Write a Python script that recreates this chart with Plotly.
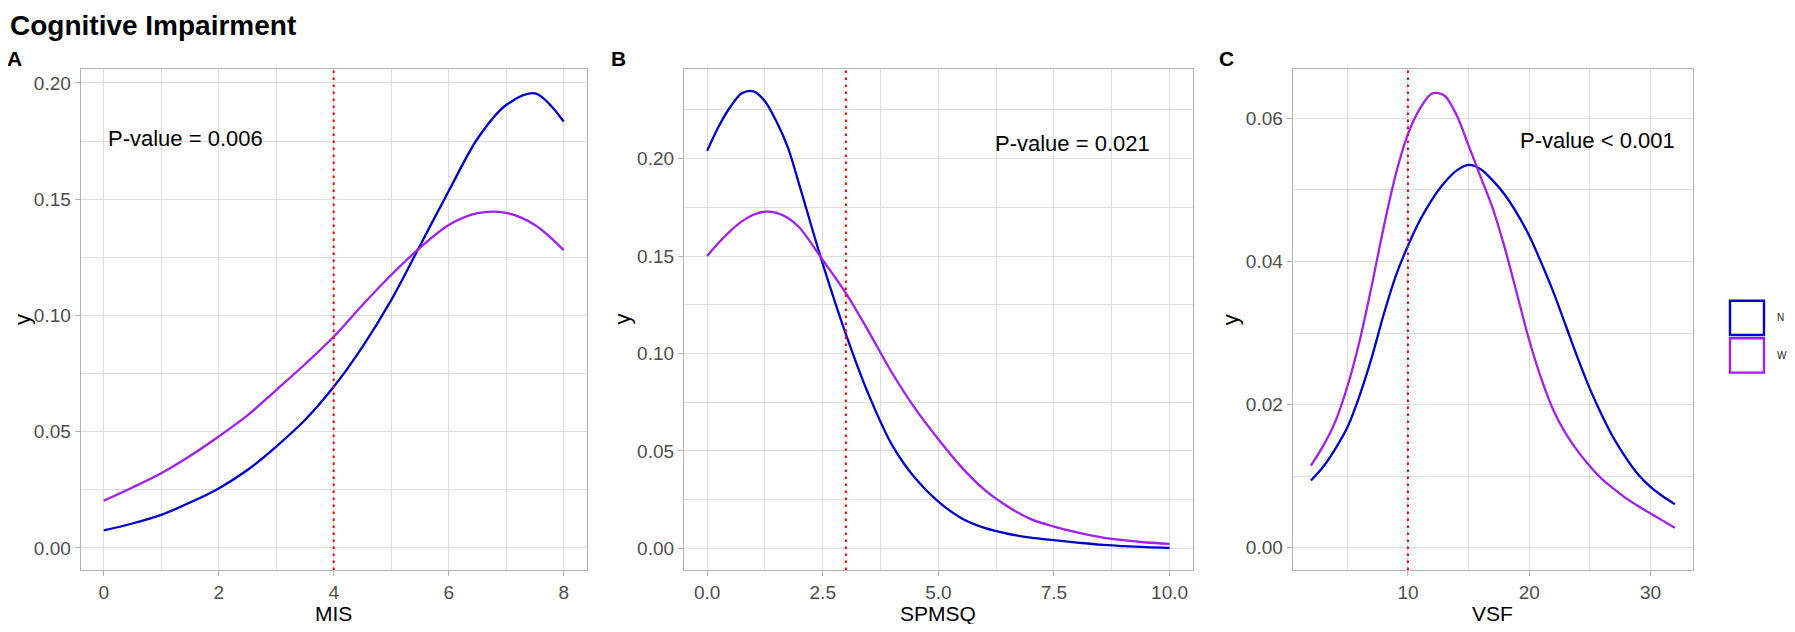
import plotly.graph_objects as go

# --- dati ---
gruppi = ["N", "W"]
colori = ["#0000CD", "#A020F0"]

# A: MIS
mis_x = [0, 0.5, 1, 1.5, 2, 2.5, 3, 3.5, 4, 4.5, 5, 5.5, 6, 6.5, 7, 7.5, 8]
mis_n = [0.0075, 0.0105, 0.0142, 0.0195, 0.0256, 0.0335, 0.0436, 0.055, 0.0693, 0.0865,
         0.1066, 0.130, 0.1535, 0.176, 0.1905, 0.1955, 0.1834]
mis_w = [0.0203, 0.026, 0.0321, 0.0395, 0.0479, 0.057, 0.0679, 0.079, 0.0908, 0.1045,
         0.1174, 0.1291, 0.1389, 0.144, 0.1441, 0.1389, 0.1281]

# B: SPMSQ
spmsq_x = [0, 0.25, 0.5, 0.75, 1, 1.25, 1.5, 1.75, 2, 2.5, 3, 3.5, 4, 4.5, 5, 5.5, 6, 6.5,
           7, 7.5, 8, 8.5, 9, 9.5, 10]
spmsq_n = [0.204, 0.2165, 0.2265, 0.2335, 0.2345, 0.2295, 0.219, 0.2055, 0.186, 0.146,
           0.110, 0.0785, 0.053, 0.036, 0.024, 0.0155, 0.0105, 0.0075, 0.0055, 0.0042,
           0.003, 0.0019, 0.0012, 0.0006, 0.0002]
spmsq_w = [0.150, 0.1568, 0.1628, 0.1678, 0.1712, 0.1728, 0.1722, 0.1695, 0.1645, 0.148,
           0.131, 0.111, 0.090, 0.0717, 0.056, 0.0417, 0.030, 0.0215, 0.015, 0.0112, 0.0082,
           0.0058, 0.0042, 0.003, 0.0023]

# C: VSF
vsf_x = list(range(2, 33))
vsf_n = [0.0094, 0.0113, 0.0138, 0.0168, 0.0212, 0.0265, 0.0326, 0.0380, 0.0422, 0.0458,
         0.0487, 0.0510, 0.0527, 0.0535, 0.0529, 0.0513, 0.0493, 0.0467, 0.0436, 0.0398,
         0.0357, 0.0311, 0.0265, 0.0222, 0.0185, 0.0152, 0.0125, 0.0102, 0.0085, 0.0072,
         0.0061]
vsf_w = [0.0115, 0.0142, 0.0176, 0.0225, 0.0288, 0.0365, 0.0448, 0.0522, 0.0578, 0.0614,
         0.0635, 0.0632, 0.0605, 0.0562, 0.0518, 0.0474, 0.0418, 0.0354, 0.0290, 0.0236,
         0.0192, 0.0160, 0.0135, 0.0114, 0.0096, 0.0082, 0.0069, 0.0058, 0.0048, 0.0038,
         0.0028]

soglie = [4, 3, 10]
pvalori = ["P-value = 0.006", "P-value = 0.021", "P-value < 0.001"]
pos_pvalori = [(1.43, 0.176), (7.9, 0.208), (25.6, 0.0569)]
titoli_x = ["MIS", "SPMSQ", "VSF"]
lettere = ["A", "B", "C"]

# la pagina html ha un margine di 8px attorno al grafico
OFF = 8
W, H = 1795 - 2 * OFF, 632 - 2 * OFF
FONT = "Liberation Sans, Arial, Helvetica, sans-serif"


def px_x(v):
    return (v - OFF) / W


def px_y(v):
    return 1 - (v - OFF) / H


# riquadri dei pannelli in pixel della pagina (sinistra, destra)
pannelli = [(80.7, 586.7), (684.0, 1192.7), (1292.7, 1693.0)]
top_px, bottom_px = 69, 570

serie = [
    (mis_x, mis_n, mis_x, mis_w),
    (spmsq_x, spmsq_n, spmsq_x, spmsq_w),
    (vsf_x, vsf_n, vsf_x, vsf_w),
]

assi_x = [
    dict(range=[-0.4, 8.4], dtick=2, minor=1, fmt=""),
    dict(range=[-0.5, 10.5], dtick=2.5, minor=1.25, fmt=".1f"),
    dict(range=[0.5, 33.5], dtick=10, minor=5, fmt=""),
]
assi_y = [
    dict(range=[-0.0095, 0.206], dtick=0.05, minor=0.025),
    dict(range=[-0.0111, 0.246], dtick=0.05, minor=0.025),
    dict(range=[-0.0031, 0.0669], dtick=0.02, minor=0.01),
]

fig = go.Figure()

for i, (xn, yn, xw, yw) in enumerate(serie):
    xa = "x" if i == 0 else f"x{i+1}"
    ya = "y" if i == 0 else f"y{i+1}"
    for nome, col, xs, ys in [(gruppi[0], colori[0], xn, yn), (gruppi[1], colori[1], xw, yw)]:
        fig.add_trace(go.Scatter(
            x=xs, y=ys, mode="lines", name=nome, showlegend=False,
            line=dict(color=col, width=2.3, shape="spline", smoothing=0.9),
            xaxis=xa, yaxis=ya,
        ))

griglia = "#DEDEDE"
bordo = "#B3B3B3"
layout_assi = {}
for i in range(3):
    sx = "xaxis" if i == 0 else f"xaxis{i+1}"
    sy = "yaxis" if i == 0 else f"yaxis{i+1}"
    l, r = pannelli[i]
    ax = assi_x[i]
    ay = assi_y[i]
    comune = dict(
        tickmode="linear", tick0=0,
        showgrid=True, gridcolor=griglia, gridwidth=1.3, zeroline=False,
        showline=True, mirror=True, linecolor=bordo, linewidth=1.2,
        ticks="outside", ticklen=5, tickcolor=bordo, tickwidth=1,
        tickfont=dict(family=FONT, size=19, color="#4D4D4D"),
    )
    layout_assi[sx] = dict(
        domain=[px_x(l), px_x(r)], range=ax["range"], anchor="y" if i == 0 else f"y{i+1}",
        dtick=ax["dtick"], tickformat=ax["fmt"],
        minor=dict(tick0=0, dtick=ax["minor"], showgrid=True, gridcolor=griglia, gridwidth=0.8),
        **comune,
    )
    layout_assi[sy] = dict(
        domain=[px_y(bottom_px), px_y(top_px)], range=ay["range"], anchor="x" if i == 0 else f"x{i+1}",
        dtick=ay["dtick"], tickformat=".2f",
        minor=dict(tick0=0, dtick=ay["minor"], showgrid=True, gridcolor=griglia, gridwidth=0.8),
        **comune,
    )

shapes = []
annotations = []
for i in range(3):
    xa = "x" if i == 0 else f"x{i+1}"
    ya = "y" if i == 0 else f"y{i+1}"
    l, r = pannelli[i]
    # linea verticale punteggiata della soglia
    shapes.append(dict(
        type="line", xref=xa, yref=f"{ya} domain", x0=soglie[i], x1=soglie[i], y0=0, y1=1,
        line=dict(color="red", width=2, dash="2.5px,4.5px"),
    ))
    # testo p-value
    annotations.append(dict(
        text=pvalori[i], x=pos_pvalori[i][0], y=pos_pvalori[i][1], xref=xa, yref=ya,
        showarrow=False, xanchor="center", yanchor="middle",
        font=dict(family=FONT, size=22, color="black"),
    ))
    # titolo asse x
    annotations.append(dict(
        text=titoli_x[i], x=px_x((l + r) / 2), y=px_y(613), xref="paper", yref="paper",
        showarrow=False, xanchor="center", yanchor="middle",
        font=dict(family=FONT, size=21, color="black"),
    ))
    # titolo asse y (il primo resta dentro il bordo sinistro)
    if i == 0:
        ylab = dict(x=0, xanchor="left")
    else:
        ylab = dict(x=px_x(l - 62), xanchor="center")
    annotations.append(dict(
        text="y", y=px_y((top_px + bottom_px) / 2), xref="paper", yref="paper",
        showarrow=False, yanchor="middle", textangle=-90,
        font=dict(family=FONT, size=22, color="black"), **ylab,
    ))
    # lettera del pannello
    annotations.append(dict(
        text=f"<b>{lettere[i]}</b>", x=px_x(l - 66), y=px_y(58), xref="paper", yref="paper",
        showarrow=False, xanchor="center", yanchor="middle",
        font=dict(family=FONT, size=21, color="black"),
    ))

# titolo generale
annotations.append(dict(
    text="<b>Cognitive Impairment</b>", x=0, y=1, xref="paper", yref="paper",
    showarrow=False, xanchor="left", yanchor="top",
    font=dict(family=FONT, size=28, color="black"),
))

# legenda disegnata a mano (chiavi con contorno)
chiavi = [(300.7, 335.0), (338.3, 372.6)]
for k, (t, b) in enumerate(chiavi):
    shapes.append(dict(
        type="rect", xref="paper", yref="paper",
        x0=px_x(1730), x1=px_x(1764), y0=px_y(b), y1=px_y(t),
        line=dict(color=colori[k], width=2.4), fillcolor="white",
    ))
    annotations.append(dict(
        text=gruppi[k], x=px_x(1775), y=px_y((t + b) / 2), xref="paper", yref="paper",
        showarrow=False, xanchor="left", yanchor="middle",
        font=dict(family=FONT, size=10, color="#222222"),
    ))

fig.update_layout(
    width=W, height=H,
    margin=dict(l=0, r=0, t=0, b=0),
    paper_bgcolor="white", plot_bgcolor="white",
    showlegend=False,
    shapes=shapes, annotations=annotations,
    **layout_assi,
)

fig.write_html("out.html")
